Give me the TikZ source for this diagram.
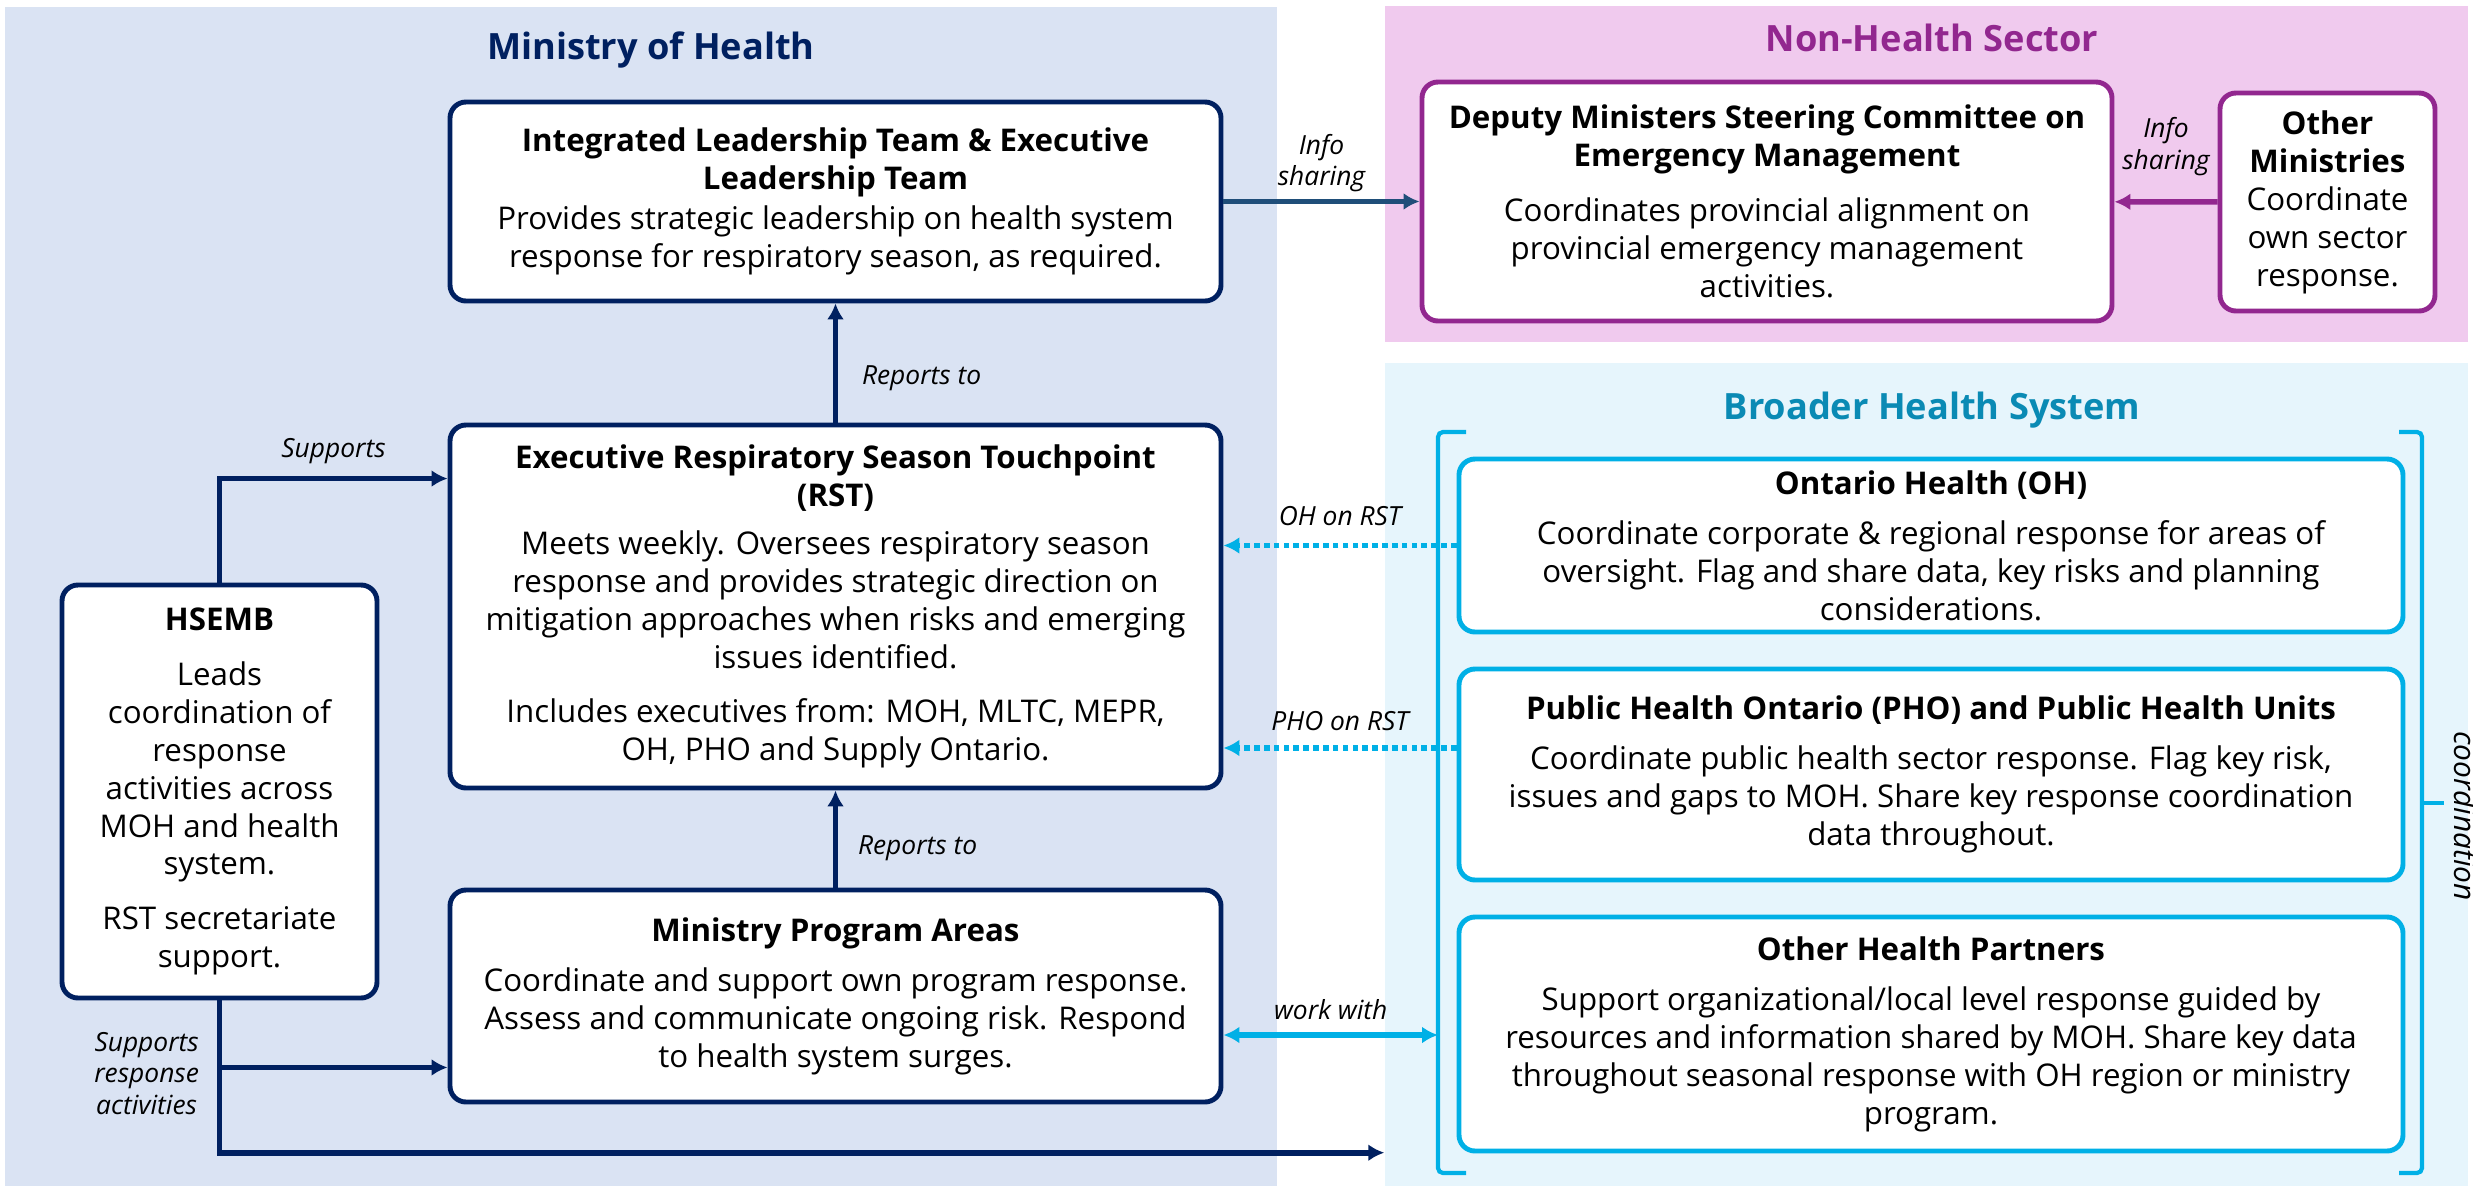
\documentclass[tikz,border=0pt]{standalone}
\usepackage{fontspec}
\setmainfont{Open Sans}
\usetikzlibrary{arrows.meta,positioning}
\definecolor{mohbg}{RGB}{218,227,243}
\definecolor{nhsbg}{RGB}{240,202,238}
\definecolor{bhsbg}{RGB}{230,245,252}
\definecolor{mohnavy}{RGB}{0,32,96}
\definecolor{infoblue}{RGB}{31,78,121}
\definecolor{nhspurple}{RGB}{146,39,143}
\definecolor{bhscyan}{RGB}{0,176,230}
\definecolor{bhsteal}{RGB}{10,138,180}
\begin{document}
\begin{tikzpicture}[>={Latex[length=1.6mm,width=1.7mm]},
  region/.style={rectangle,inner sep=0pt,draw=none},
  heading/.style={font=\fontsize{10.3}{12}\selectfont\bfseries},
  box/.style={rectangle,rounded corners=1.6mm,line width=1.4pt,fill=white,align=center,inner sep=0pt,font=\fontsize{8.9}{10.8}\selectfont},
  mohbox/.style={box,draw=mohnavy},
  nhsbox/.style={box,draw=nhspurple},
  bhsbox/.style={box,draw=bhscyan},
  lbl/.style={font=\fontsize{7.5}{9}\selectfont\itshape,align=center},
  navyarrow/.style={line width=1.6pt,draw=mohnavy},
  infoarrow/.style={line width=1.6pt,draw=infoblue},
  purplearrow/.style={line width=1.6pt,draw=nhspurple},
  cyanarrow/.style={line width=1.8pt,draw=bhscyan},
  cyandot/.style={line width=1.6pt,draw=bhscyan,dash pattern=on 1.6pt off 1.2pt},
  bracket/.style={line width=1.2pt,draw=bhscyan,rounded corners=0.5mm}]
\useasboundingbox (0,0) rectangle (24.73,-11.86);

% background areas
\node (moh) at (6.41,-5.965)[region,fill=mohbg,minimum width=12.72cm,minimum height=11.79cm]{};
\node (nhs) at (19.265,-1.74)[region,fill=nhsbg,minimum width=10.83cm,minimum height=3.36cm]{};
\node (bhs) at (19.265,-7.745)[region,fill=bhsbg,minimum width=10.83cm,minimum height=8.23cm]{};

\node (mohtitle) at (6.51,-0.50)[heading,text=mohnavy]{Ministry of Health};
\node (nhstitle) at (19.32,-0.38)[heading,text=nhspurple]{Non-Health Sector};
\node (bhstitle) at (19.32,-4.10)[heading,text=bhsteal]{Broader Health System};

% ministry of health
\node (ilt) at (8.355,-2.015)[mohbox,minimum width=7.71cm,minimum height=1.99cm]{\textbf{Integrated Leadership Team \& Executive}\\\textbf{Leadership Team}\\[0.5pt]Provides strategic leadership on health system\\response for respiratory season, as required.};
\node (rst) at (8.355,-6.065)[mohbox,minimum width=7.71cm,minimum height=3.63cm]{\textbf{Executive Respiratory Season Touchpoint}\\\textbf{(RST)}\\[2.8pt]Meets weekly. Oversees respiratory season\\response and provides strategic direction on\\mitigation approaches when risks and emerging\\issues identified.\\[4.8pt]Includes executives from: MOH, MLTC, MEPR,\\OH, PHO and Supply Ontario.};
\node (hsemb) at (2.195,-7.915)[mohbox,minimum width=3.15cm,minimum height=4.13cm]{\textbf{HSEMB}\\[4.8pt]Leads\\coordination of\\response\\activities across\\MOH and health\\system.\\[4.8pt]RST secretariate\\support.};
\node (mpa) at (8.355,-9.96)[mohbox,minimum width=7.71cm,minimum height=2.12cm]{\textbf{Ministry Program Areas}\\[3.4pt]Coordinate and support own program response.\\Assess and communicate ongoing risk. Respond\\to health system surges.};

% non-health sector
\node (dmsc) at (17.67,-2.015)[nhsbox,minimum width=6.90cm,minimum height=2.39cm]{\textbf{Deputy Ministers Steering Committee on}\\\textbf{Emergency Management}\\[4.8pt]Coordinates provincial alignment on\\provincial emergency management\\activities.};
\node (oth) at (23.275,-2.02)[nhsbox,minimum width=2.15cm,minimum height=2.18cm]{\textbf{Other}\\\textbf{Ministries}\\Coordinate\\own sector\\response.};

% broader health system
\node (oh) at (19.31,-5.455)[bhsbox,minimum width=9.44cm,minimum height=1.73cm]{\textbf{Ontario Health (OH)}\\[3.4pt]Coordinate corporate \& regional response for areas of\\oversight. Flag and share data, key risks and planning\\considerations.};
\node (pho) at (19.31,-7.745)[bhsbox,minimum width=9.44cm,minimum height=2.11cm]{\textbf{Public Health Ontario (PHO) and Public Health Units}\\[3.4pt]Coordinate public health sector response. Flag key risk,\\issues and gaps to MOH. Share key response coordination\\data throughout.};
\node (ohp) at (19.31,-10.34)[bhsbox,minimum width=9.44cm,minimum height=2.34cm]{\textbf{Other Health Partners}\\[3.4pt]Support organizational/local level response guided by\\resources and information shared by MOH. Share key data\\throughout seasonal response with OH region or ministry\\program.};

% brackets
\coordinate (lbrk) at (14.38,-4.32);
\coordinate (rbrk) at (24.22,-4.32);
\draw[bracket] (14.66,-4.32) -- (lbrk) -- (14.38,-11.73) -- (14.66,-11.73);
\draw[bracket] (23.99,-4.32) -- (rbrk) -- (24.22,-11.73) -- (23.99,-11.73);
\draw[bracket] (24.22,-8.03) -- (24.44,-8.03);
\node (coord) at (24.66,-8.16)[lbl,rotate=-90,font=\fontsize{8.5}{10}\selectfont\itshape]{coordination};

% connectors
\draw[navyarrow,->] (rst) -- node[lbl,right=1.2mm,pos=0.375]{Reports to} (ilt);
\draw[navyarrow,->] (mpa) -- node[lbl,right=0.8mm,pos=0.41]{Reports to} (rst);
\draw[navyarrow,->] (hsemb) |- node[lbl,above,pos=0.75]{Supports} ([yshift=-0.56cm]rst.north west);
\draw[navyarrow,->] (hsemb) |- node[lbl,left=0.6mm,pos=0.24]{Supports\\response\\activities} ([yshift=0.34cm]bhs.south west);
\coordinate (mpain) at ([yshift=0.37cm]mpa.south west);
\draw[navyarrow,->] (hsemb.south |- mpain) -- (mpain);
\draw[cyanarrow,<->] ([yshift=-0.39cm]mpa.east) -- node[lbl,above]{work with} ([yshift=-0.39cm]mpa.east -| lbrk);
\draw[cyandot,->] (oh.west) -- node[lbl,above=0.5mm]{OH on RST} (oh.west -| rst.east);
\draw[cyandot,->] ([yshift=0.265cm]pho.west) -- node[lbl,above=0.3mm]{PHO on RST} ([yshift=0.265cm]pho.west -| rst.east);
\draw[infoarrow,->] (ilt) -- node[lbl,above=-0.5mm]{Info\\sharing} (dmsc);
\draw[purplearrow,->] (oth) -- node[lbl,above=1.2mm]{Info\\sharing} (dmsc);
\end{tikzpicture}
\end{document}
